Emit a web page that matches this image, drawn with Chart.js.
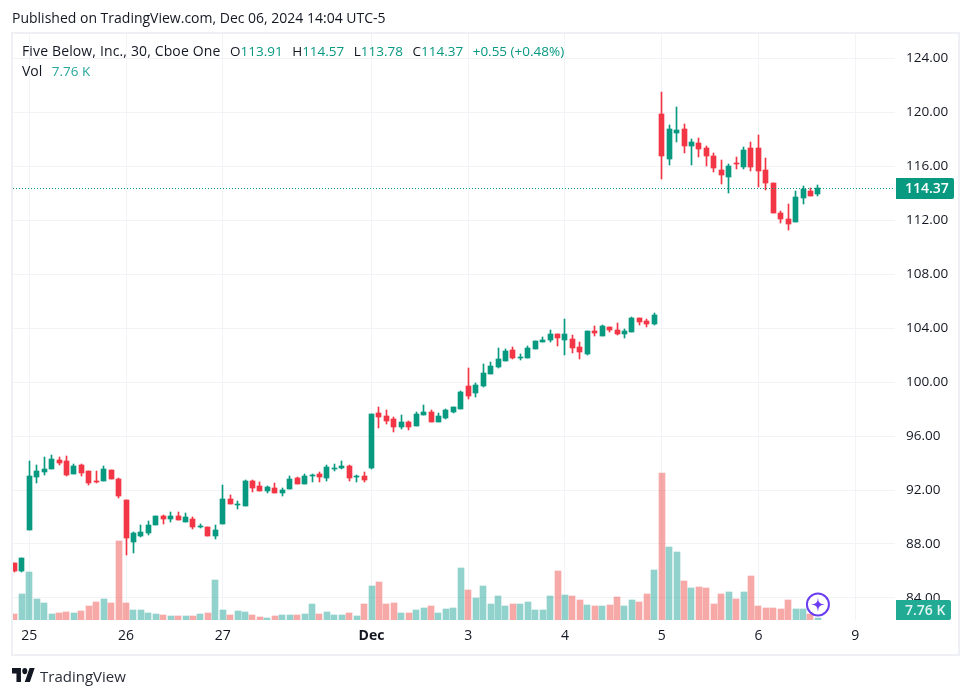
<!DOCTYPE html>
<html>
<head>
<meta charset="utf-8">
<title>Five Below, Inc.</title>
<script src="https://cdn.jsdelivr.net/npm/chart.js@4"></script>
<style>
  body { margin: 0; background: #fff; font-family: "Open Sans", sans-serif; color: #131722; }
  #wrap { position: relative; width: 971px; height: 696px; overflow: hidden; }
  #grafico { position: absolute; left: 0; top: 0; }
  #frame { position: absolute; left: 11px; top: 32px; width: 945px; height: 620px; border: 2px solid #eef0f6; }
  .txt { position: absolute; white-space: nowrap; font-size: 14px; line-height: 18px; }
  .txt b { font-weight: normal; color: #089981; }
  .txt span { margin-left: 9.5px; font-size: 13.5px; letter-spacing: 0; }
  #logoTxt { left: 40px; top: 665px; font-size: 15px; line-height: 22px; color: #2a2e39; }
  #logo { position: absolute; left: 12px; top: 668px; }
</style>
</head>
<body>
<div id="wrap">
  <canvas id="grafico" width="971" height="696"></canvas>
  <div id="frame"></div>
  <div class="txt" style="left:12px;top:9px">Published on TradingView.com, Dec 06, 2024 14:04 UTC-5</div>
  <div class="txt" style="left:22px;top:42px;letter-spacing:.14px">Five Below, Inc., 30, Cboe One<span>O<b>113.91</b></span><span>H<b>114.57</b></span><span>L<b>113.78</b></span><span>C<b>114.37</b></span><span><b>+0.55 (+0.48%)</b></span></div>
  <div class="txt" style="left:22px;top:62px">Vol<span style="color:#26a69a">7.76 K</span></div>
  <svg id="logo" width="23" height="14" viewBox="0 4 36 18" preserveAspectRatio="none"><path fill="#131722" d="M14 22H7V11H0V4h14v18zM28 22h-8l7.5-18h8L28 22z"/><circle fill="#131722" cx="20" cy="8" r="4"/></svg>
  <div class="txt" id="logoTxt">TradingView</div>
</div>

<script>
// barras de 30 min, a primeira fica duas casas antes do dia 25
const abertura = [86.59,86.0,89.04,92.96,93.33,93.56,94.22,94.15,93.19,93.85,93.41,92.67,92.67,93.48,92.82,91.26,88.15,88.59,88.81,89.41,90.07,89.85,90.07,89.63,89.85,89.26,89.26,88.59,89.48,91.33,90.89,90.81,92.67,92.3,91.93,92.15,91.78,92.07,92.89,92.44,93.04,93.19,92.89,93.56,93.63,93.78,92.96,93.04,93.63,97.7,97.48,97.26,96.67,97.04,96.74,97.56,97.78,97.04,97.33,97.78,98.0,99.7,99.19,99.7,100.59,101.11,101.56,102.37,101.78,101.78,102.44,102.96,103.11,103.56,103.11,103.19,102.59,102.07,103.78,103.41,104.07,103.85,103.56,103.7,104.74,104.52,104.3,119.85,116.52,118.44,118.74,117.48,117.7,117.33,116.74,115.7,115.19,116.22,115.93,117.33,117.33,115.7,114.74,112.52,112.07,111.85,113.63,114.15,113.91];
const maxima = [86.59,86.96,94.15,93.85,94.44,94.59,94.44,94.52,93.93,93.93,93.41,93.41,93.78,93.48,92.89,91.26,88.89,89.41,89.7,90.07,90.15,90.37,90.37,90.3,90.0,89.48,89.26,89.41,92.37,91.63,91.19,92.74,92.74,92.59,92.3,92.52,92.15,93.04,92.96,93.19,93.19,93.33,93.85,93.93,94.15,93.85,93.11,93.33,97.63,98.15,97.93,97.41,97.56,97.11,97.78,98.3,97.93,97.7,98.0,98.15,99.33,101.04,99.93,101.33,101.48,102.52,102.44,102.59,102.07,102.67,103.04,103.33,103.85,103.56,104.67,103.48,102.96,103.78,104.15,104.22,104.07,104.37,103.93,104.81,104.74,104.67,105.11,121.48,119.04,120.37,119.11,118.0,118.07,117.48,116.96,116.44,116.15,116.67,117.41,117.78,118.3,116.59,114.74,112.67,113.19,114.15,114.52,114.37,114.57];
const minimas = [85.93,85.93,89.04,92.52,93.11,93.56,93.85,93.04,93.19,93.04,92.37,92.52,92.67,92.82,91.41,87.19,87.33,88.52,88.67,89.41,89.48,89.63,89.78,89.63,89.11,89.19,88.59,88.37,89.48,90.96,90.59,90.81,91.85,91.93,91.78,91.78,91.56,92.07,92.44,92.44,92.59,92.59,92.67,93.41,93.56,92.67,92.59,92.59,93.56,96.59,96.89,96.3,96.52,96.44,96.74,97.56,97.04,97.04,97.26,97.7,98.0,98.74,98.89,99.63,100.59,101.04,101.56,101.7,101.63,101.78,102.44,102.96,102.96,102.67,102.0,102.15,101.7,102.0,103.41,103.41,103.7,103.48,103.26,103.7,104.22,104.07,104.22,115.04,116.07,117.78,116.96,116.07,116.67,116.0,115.56,114.67,114.0,115.78,115.78,115.63,114.44,114.22,112.52,111.78,111.26,111.85,113.19,113.78,113.78];
const fechamento = [86.0,86.96,93.04,93.41,93.56,94.3,94.0,93.11,93.78,93.26,92.52,92.59,93.56,92.82,91.56,88.44,88.81,88.89,89.41,90.07,89.85,90.07,89.78,90.0,89.26,89.33,88.59,89.04,91.33,90.96,90.96,92.67,92.15,91.93,92.22,91.78,92.0,92.82,92.44,93.04,93.11,92.96,93.7,93.63,93.78,92.89,93.04,92.74,97.63,97.41,97.11,96.67,97.04,96.67,97.63,97.78,97.04,97.48,97.93,98.15,99.26,98.96,99.78,100.67,101.19,101.7,102.3,101.78,101.85,102.52,103.04,103.11,103.56,103.26,103.56,102.52,102.22,103.78,103.63,104.15,103.85,103.56,103.78,104.74,104.44,104.3,104.96,116.74,118.74,118.67,117.48,117.78,117.26,116.74,115.85,115.33,116.0,116.15,117.19,115.93,115.63,114.74,112.52,112.07,111.7,113.7,114.3,113.78,114.37];
// volume em milhares
const volume = [29,126,233,102,82,29,34,39,34,44,68,87,102,82,383,82,49,49,34,29,24,19,19,19,19,29,34,194,49,24,44,39,24,15,10,19,24,24,24,29,78,29,39,24,24,34,19,78,165,184,78,82,34,34,49,58,68,34,53,58,252,146,107,165,78,116,68,78,78,87,49,49,116,238,121,116,97,73,68,68,73,112,68,97,87,126,243,713,354,330,189,155,160,155,78,126,136,102,136,213,68,58,58,53,97,53,53,29,7.76];

const barrasTick = [0, 13, 26, 46, 59, 72, 85, 98, 111];
const rotulosTick = ['25', '26', '27', 'Dec', '3', '4', '5', '6', '9'];
const precosTick = [84, 88, 92, 96, 100, 104, 108, 112, 116, 120, 124];

const VERDE = '#089981', VERMELHO = '#f23645';
const FONTE = '"Open Sans", sans-serif';
const ultimo = fechamento[fechamento.length - 1];

const posX = i => i - 2;
const sobe = i => fechamento[i] >= abertura[i];
const corCandle = abertura.map((_, i) => sobe(i) ? VERDE : VERMELHO);
const corVolume = abertura.map((_, i) => sobe(i) ? 'rgba(38,166,154,.5)' : 'rgba(239,83,80,.5)');

const xMin = -2.19, xMax = 116.09;

// deixa as barras no pixel inteiro, como no original
const ajustaBarras = {
    id: 'ajustaBarras',
    beforeDatasetsDraw(chart) {
        chart.data.datasets.forEach((ds, i) => {
            if (ds.type === 'line') return;
            chart.getDatasetMeta(i).data.forEach(b => {
                b.x = b.width % 2 ? Math.floor(b.x) + .5 : Math.round(b.x);
                b.y = Math.round(b.y);
                b.base = Math.round(b.base);
                if (b.y === b.base) b.y = b.base - 1;
            });
        });
    },
    // linha pontilhada nitida
    beforeDatasetDraw(chart, args) {
        if (chart.data.datasets[args.index].type === 'line') {
            chart.ctx.save();
            chart.ctx.translate(0, .5);
        }
    },
    afterDatasetDraw(chart, args) {
        if (chart.data.datasets[args.index].type === 'line') chart.ctx.restore();
    }
};

function etiqueta(ctx, x, y, w, h, cor, corTxt, txt) {
    ctx.fillStyle = cor;
    ctx.beginPath();
    ctx.roundRect(x, y, w, h, [0, 2, 2, 0]);
    ctx.fill();
    ctx.fillStyle = corTxt;
    ctx.font = '600 14px ' + FONTE;
    ctx.textAlign = 'left';
    ctx.textBaseline = 'middle';
    ctx.fillText(txt, x + 9, y + h / 2 + 1);
}

const extras = {
    id: 'extras',
    afterDraw(chart) {
        const ctx = chart.ctx, yP = chart.scales.y, xS = chart.scales.x;
        ctx.save();
        const yU = Math.round(yP.getPixelForValue(ultimo));
        etiqueta(ctx, 896, yU - 10, 58, 21, VERDE, '#fff', ultimo.toFixed(2));
        const base = chart.scales.v.getPixelForValue(0);
        etiqueta(ctx, 896, base - 20, 55, 20, '#22ab94', '#e0f5f1', '7.76 K');

        // selo roxo em cima da ultima barra
        const cx = xS.getPixelForValue(posX(abertura.length - 1)), cy = 604.5;
        ctx.beginPath();
        ctx.arc(cx, cy, 11, 0, Math.PI * 2);
        ctx.fillStyle = '#fff';
        ctx.fill();
        ctx.lineWidth = 2;
        ctx.strokeStyle = '#6a3df0';
        ctx.stroke();
        ctx.beginPath();
        ctx.moveTo(cx, cy - 7);
        ctx.quadraticCurveTo(cx, cy, cx + 7, cy);
        ctx.quadraticCurveTo(cx, cy, cx, cy + 7);
        ctx.quadraticCurveTo(cx, cy, cx - 7, cy);
        ctx.quadraticCurveTo(cx, cy, cx, cy - 7);
        ctx.fillStyle = '#6a3df0';
        ctx.fill();
        ctx.restore();
    }
};

new Chart(document.getElementById('grafico'), {
    type: 'bar',
    plugins: [ajustaBarras, extras],
    data: {
        datasets: [
            {
                type: 'line', yAxisID: 'y', order: 0,
                data: [{ x: xMin, y: ultimo }, { x: xMax, y: ultimo }],
                borderColor: VERDE, borderWidth: 1, borderDash: [1, 2], pointRadius: 0
            },
            {
                yAxisID: 'y', order: 1, grouped: false, barThickness: 5, borderWidth: 0,
                data: abertura.map((a, i) => ({ x: posX(i), y: [a, fechamento[i]] })),
                backgroundColor: corCandle
            },
            {
                yAxisID: 'y', order: 2, grouped: false, barThickness: 1, borderWidth: 0,
                data: abertura.map((_, i) => ({ x: posX(i), y: [minimas[i], maxima[i]] })),
                backgroundColor: corCandle
            },
            {
                yAxisID: 'v', order: 3, grouped: false, barThickness: 6, borderWidth: 0,
                data: volume.map((v, i) => ({ x: posX(i), y: v })),
                backgroundColor: corVolume
            }
        ]
    },
    options: {
        responsive: false,
        animation: false,
        layout: { padding: { left: 13, top: 34, right: 13, bottom: 43 } },
        plugins: { legend: { display: false }, tooltip: { enabled: false } },
        scales: {
            x: {
                type: 'linear', min: xMin, max: xMax, offset: false,
                grid: { color: '#f1f3f6', offset: false, drawTicks: false },
                border: { display: false },
                afterBuildTicks: s => { s.ticks = barrasTick.map(v => ({ value: v })); },
                afterFit: s => { s.height = 33; },
                ticks: {
                    autoSkip: false, maxRotation: 0, padding: 8, color: '#131722',
                    callback: v => rotulosTick[barrasTick.indexOf(v)],
                    font: c => ({ family: FONTE, size: 14, weight: c.index === 3 ? 'bold' : 'normal' })
                }
            },
            y: {
                position: 'right', min: 82.37, max: 125.78,
                grid: { color: '#f1f3f6', tickLength: 2 },
                border: { display: false },
                afterBuildTicks: s => { s.ticks = precosTick.map(v => ({ value: v })); },
                afterFit: s => { s.width = 65; },
                ticks: {
                    padding: 11, color: '#131722',
                    font: { family: FONTE, size: 13.5 },
                    callback: v => v.toFixed(2)
                }
            },
            v: { display: false, position: 'left', min: 0, max: 2842 }
        }
    }
});
</script>
</body>
</html>
